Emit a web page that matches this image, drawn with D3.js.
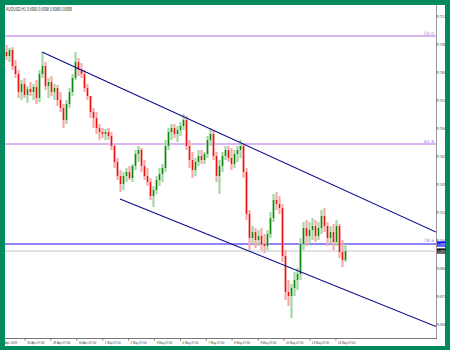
<!DOCTYPE html>
<html><head><meta charset="utf-8">
<script src="https://cdn.jsdelivr.net/npm/d3@7"></script>
<style>html,body{margin:0;padding:0;background:#008a5e;overflow:hidden}svg{display:block}</style>
</head><body><svg id="c" width="450" height="350"></svg>
<script>
// ---- data ----
const title = "AUDUSD,H1  0.6990 0.6998 0.6989 0.6995";
const opens = [0.7094,0.7092,0.7095,0.7087,0.7083,0.7074,0.7078,0.70725,0.70755,0.7074,0.70765,0.7071,0.7083,0.7087,0.7077,0.7079,0.7074,0.7076,0.7070,0.7066,0.7060,0.7068,0.7074,0.7081,0.7089,0.7085,0.7083,0.7076,0.7072,0.7064,0.7061,0.7056,0.7054,0.7053,0.7054,0.7052,0.7047,0.7039,0.7032,0.7028,0.7032,0.7034,0.7031,0.7037,0.7043,0.7045,0.7037,0.7032,0.7029,0.7022,0.7025,0.7030,0.7033,0.7036,0.7047,0.7054,0.7056,0.7053,0.7055,0.7057,0.7060,0.7047,0.7040,0.7035,0.7039,0.7042,0.7040,0.7043,0.7050,0.7053,0.7042,0.7032,0.7037,0.7042,0.7045,0.7041,0.7038,0.7043,0.7045,0.7047,0.7034,0.7013,0.7001,0.7004,0.7000,0.7002,0.6998,0.6997,0.7003,0.7011,0.7020,0.7018,0.7016,0.6992,0.6974,0.6972,0.6976,0.6980,0.6983,0.6998,0.7006,0.7002,0.7005,0.7007,0.7002,0.7006,0.7012,0.7007,0.7001,0.7004,0.6999,0.7007,0.6994,0.6990];
const highs = [0.70975,0.7096,0.70965,0.7090,0.7085,0.7080,0.7081,0.7077,0.7079,0.7078,0.7080,0.7085,0.70935,0.7089,0.7081,0.7082,0.7078,0.70775,0.7074,0.7068,0.7070,0.7076,0.7083,0.7094,0.7091,0.70885,0.7085,0.7078,0.7072,0.7066,0.7064,0.7058,0.7056,0.70555,0.7056,0.7054,0.7048,0.7041,0.7035,0.7034,0.7036,0.7037,0.7038,0.7045,0.7047,0.7046,0.7040,0.7036,0.7031,0.7027,0.7032,0.7036,0.7038,0.7050,0.7056,0.7058,0.7058,0.7057,0.7059,0.7063,0.7062,0.7050,0.7044,0.7041,0.7045,0.7045,0.7044,0.7052,0.7056,0.7055,0.7044,0.7040,0.7044,0.7047,0.7047,0.7046,0.7045,0.7047,0.7050,0.7048,0.7036,0.7015,0.7007,0.7006,0.7005,0.7006,0.7003,0.7005,0.7014,0.7023,0.7024,0.7022,0.7018,0.6995,0.6980,0.6978,0.6984,0.6986,0.7001,0.7009,0.7010,0.7009,0.7011,0.7010,0.7009,0.7015,0.7016,0.7009,0.7007,0.7008,0.7010,0.7008,0.7000,0.6998];
const lows = [0.7090,0.7089,0.7085,0.7081,0.7071,0.7070,0.7071,0.70685,0.7072,0.7070,0.7068,0.7069,0.7081,0.7075,0.7071,0.7072,0.7070,0.7067,0.7064,0.7056,0.7058,0.7066,0.7072,0.7080,0.7082,0.7081,0.7074,0.7070,0.7061,0.7056,0.7053,0.7050,0.7051,0.7050,0.7050,0.7045,0.7036,0.7030,0.7024,0.7025,0.7029,0.7030,0.7029,0.7035,0.7039,0.7034,0.7030,0.7027,0.7020,0.70165,0.7023,0.7027,0.7029,0.7034,0.7045,0.7050,0.7051,0.7049,0.7052,0.7055,0.7045,0.7036,0.7031,0.7032,0.7037,0.7038,0.7038,0.7041,0.7047,0.7040,0.7029,0.7023,0.7034,0.7040,0.7039,0.7035,0.7036,0.7039,0.7041,0.7031,0.7010,0.6995,0.6998,0.6996,0.6997,0.6995,0.69935,0.6995,0.7001,0.7009,0.7015,0.7013,0.6989,0.6970,0.6967,0.6961,0.6972,0.6975,0.6980,0.6995,0.6997,0.6998,0.7000,0.6999,0.7000,0.7003,0.7004,0.6997,0.6998,0.6995,0.6997,0.6991,0.69865,0.6989];
const closes = [0.7092,0.7095,0.7087,0.7083,0.7074,0.7078,0.70725,0.70755,0.7074,0.70765,0.7071,0.7083,0.7087,0.7077,0.7079,0.7074,0.7076,0.7070,0.7066,0.7060,0.7068,0.7074,0.7081,0.7089,0.7085,0.7083,0.7076,0.7072,0.7064,0.7061,0.7056,0.7054,0.7053,0.7054,0.7052,0.7047,0.7039,0.7032,0.7028,0.7032,0.7034,0.7031,0.7037,0.7043,0.7045,0.7037,0.7032,0.7029,0.7022,0.7025,0.7030,0.7033,0.7036,0.7047,0.7054,0.7056,0.7053,0.7055,0.7057,0.7060,0.7047,0.7040,0.7035,0.7039,0.7042,0.7040,0.7043,0.7050,0.7053,0.7042,0.7032,0.7037,0.7042,0.7045,0.7041,0.7038,0.7043,0.7045,0.7047,0.7034,0.7013,0.7001,0.7004,0.7000,0.7002,0.6998,0.6997,0.7003,0.7011,0.7020,0.7018,0.7016,0.6992,0.6974,0.6972,0.6976,0.6980,0.6983,0.6998,0.7006,0.7002,0.7005,0.7007,0.7002,0.7006,0.7012,0.7007,0.7001,0.7004,0.6999,0.7007,0.6994,0.6990,0.69945];
const priceTicks = [0.7112,0.7098,0.7084,0.7070,0.7056,0.7042,0.7028,0.7014,0.7000,0.6986,0.6972,0.6958];
const timeLabels = ["25 Apr 2019","26 Apr 07:00","29 Apr 07:00","30 Apr 07:00","1 May 07:00","2 May 07:00","3 May 07:00","6 May 07:00","7 May 07:00","8 May 07:00","9 May 07:00","10 May 07:00","13 May 07:00","14 May 07:00"];
const timeLabelBars = [-2.5,6.2,14.8,23.4,32.1,40.7,49.3,58.0,66.6,75.2,83.9,92.5,101.1,109.8];
const fibLevels = [0.7102,0.7048];
const fibNames = ["50.0","61.8"];
const levelLine = 0.6998;
const levelName = "78.6";
const bidPrice = 0.69945;
const upperChannel = [[11.83,0.7094],[110,0.70267]];
const lowerChannel = [[37.83,0.70205],[110,0.69768]];

// ---- drawing ----
const svg = d3.select("#c");
const P = {l:5, t:5, r:436, b:338};
const y = d3.scaleLinear().domain([0.7112,0.6958]).range([16,324]);
const x = d3.scaleLinear().domain([0,113]).range([6.5,345.5]);

svg.append("rect").attr("x",0).attr("y",0).attr("width",450).attr("height",350).attr("fill","#008a5e");
svg.append("rect").attr("x",5).attr("y",5).attr("width",440).attr("height",341).attr("fill","#fff");

const defs = svg.append("defs");
defs.append("clipPath").attr("id","pc").append("rect")
  .attr("x",P.l).attr("y",P.t).attr("width",P.r-P.l).attr("height",P.b-P.t);
defs.append("clipPath").attr("id","bc").append("rect")
  .attr("x",5).attr("y",P.b).attr("width",440).attr("height",8);
const g = svg.append("g").attr("clip-path","url(#pc)");

// fib lines
g.selectAll(".fib").data(fibLevels).join("line")
  .attr("x1",P.l).attr("x2",P.r).attr("y1",d=>y(d)).attr("y2",d=>y(d))
  .attr("stroke","#b46fe6").attr("stroke-width",1);
g.selectAll(".fibt").data(fibLevels).join("text")
  .attr("x",434).attr("y",d=>y(d)-1.5).attr("text-anchor","end")
  .attr("font-family","DejaVu Sans").attr("font-size",4.5).attr("fill","#b46fe6")
  .text((d,i)=>fibNames[i]);

// bid line
g.append("line").attr("x1",P.l).attr("x2",P.r).attr("y1",y(bidPrice)).attr("y2",y(bidPrice))
  .attr("stroke","#c4c4c4").attr("stroke-width",1);
// level line
g.append("line").attr("x1",P.l).attr("x2",P.r).attr("y1",y(levelLine)).attr("y2",y(levelLine))
  .attr("stroke","#6b5cf5").attr("stroke-width",1.6);
g.append("text").attr("x",434).attr("y",y(levelLine)-1.8).attr("text-anchor","end")
  .attr("font-family","DejaVu Sans").attr("font-size",4.5).attr("fill","#b46fe6").text(levelName);

// candles
const idx = d3.range(closes.length);
g.selectAll(".wick").data(idx).join("line")
  .attr("x1",i=>x(i)).attr("x2",i=>x(i)).attr("y1",i=>y(highs[i])).attr("y2",i=>y(lows[i]))
  .attr("stroke",i=>closes[i]>=opens[i]?"#a6d6a6":"#f7aaaa").attr("stroke-width",2.2);
g.selectAll(".body").data(idx).join("rect")
  .attr("x",i=>x(i)-0.7).attr("width",1.4)
  .attr("y",i=>Math.min(y(opens[i]),y(closes[i])))
  .attr("height",i=>Math.max(1,Math.abs(y(opens[i])-y(closes[i]))))
  .attr("fill",i=>closes[i]>=opens[i]?"#0a8a0a":"#f01010");

// channel rays
function ray(pts){
  const x1=x(pts[0][0]), y1=y(pts[0][1]), x2=x(pts[1][0]), y2=y(pts[1][1]);
  const s=(y2-y1)/(x2-x1);
  g.append("line").attr("x1",x1).attr("y1",y1).attr("x2",P.r).attr("y2",y1+s*(P.r-x1))
    .attr("stroke","#0a0a8c").attr("stroke-width",1.15);
}
ray(upperChannel); ray(lowerChannel);

// axes frame
svg.append("line").attr("x1",P.r+0.5).attr("x2",P.r+0.5).attr("y1",P.t).attr("y2",P.b)
  .attr("stroke","#999").attr("stroke-width",1);
svg.append("line").attr("x1",P.l).attr("x2",P.r+1).attr("y1",P.b+0.5).attr("y2",P.b+0.5)
  .attr("stroke","#777").attr("stroke-width",1);

// right axis ticks
svg.selectAll(".yt").data(priceTicks).join("line")
  .attr("x1",P.r).attr("x2",P.r+2).attr("y1",d=>y(d)).attr("y2",d=>y(d)).attr("stroke","#777");
svg.selectAll(".ytl").data(priceTicks).join("text")
  .attr("x",P.r+1.5).attr("y",d=>y(d)+1.6)
  .attr("font-family","Liberation Sans Narrow, Liberation Sans").attr("font-size",4.2)
  .attr("textLength",7.6).attr("lengthAdjust","spacingAndGlyphs").attr("fill","#444")
  .text(d=>d.toFixed(4));

// price boxes
function box(v,fill){
  svg.append("rect").attr("x",P.r+1).attr("y",y(v)-2.6).attr("width",8.5).attr("height",5.2).attr("fill",fill);
  svg.append("text").attr("x",P.r+1.5).attr("y",y(v)+1.6)
    .attr("font-family","Liberation Sans").attr("font-size",4.2)
    .attr("textLength",7.6).attr("lengthAdjust","spacingAndGlyphs").attr("fill","#fff")
    .text(v.toFixed(4));
}
box(levelLine,"#1010ff");
box(bidPrice,"#111");

// bottom time labels
const tl = svg.append("g").attr("clip-path","url(#bc)");
tl.selectAll("line").data(timeLabelBars).join("line")
  .attr("x1",d=>x(d)).attr("x2",d=>x(d)).attr("y1",P.b).attr("y2",P.b+2.5).attr("stroke","#777");
tl.selectAll("text").data(timeLabelBars).join("text")
  .attr("x",d=>x(d)+2).attr("y",P.b+6.3)
  .attr("font-family","Liberation Sans").attr("font-size",4.2)
  .attr("textLength",(d,i)=>timeLabels[i].length*1.45).attr("lengthAdjust","spacingAndGlyphs")
  .attr("fill","#444").text((d,i)=>timeLabels[i]);

// title
svg.append("text").attr("x",6).attr("y",10.5)
  .attr("font-family","Liberation Sans").attr("font-size",4.6)
  .attr("textLength",66).attr("lengthAdjust","spacingAndGlyphs").attr("fill","#333").text(title);
</script></body></html>
